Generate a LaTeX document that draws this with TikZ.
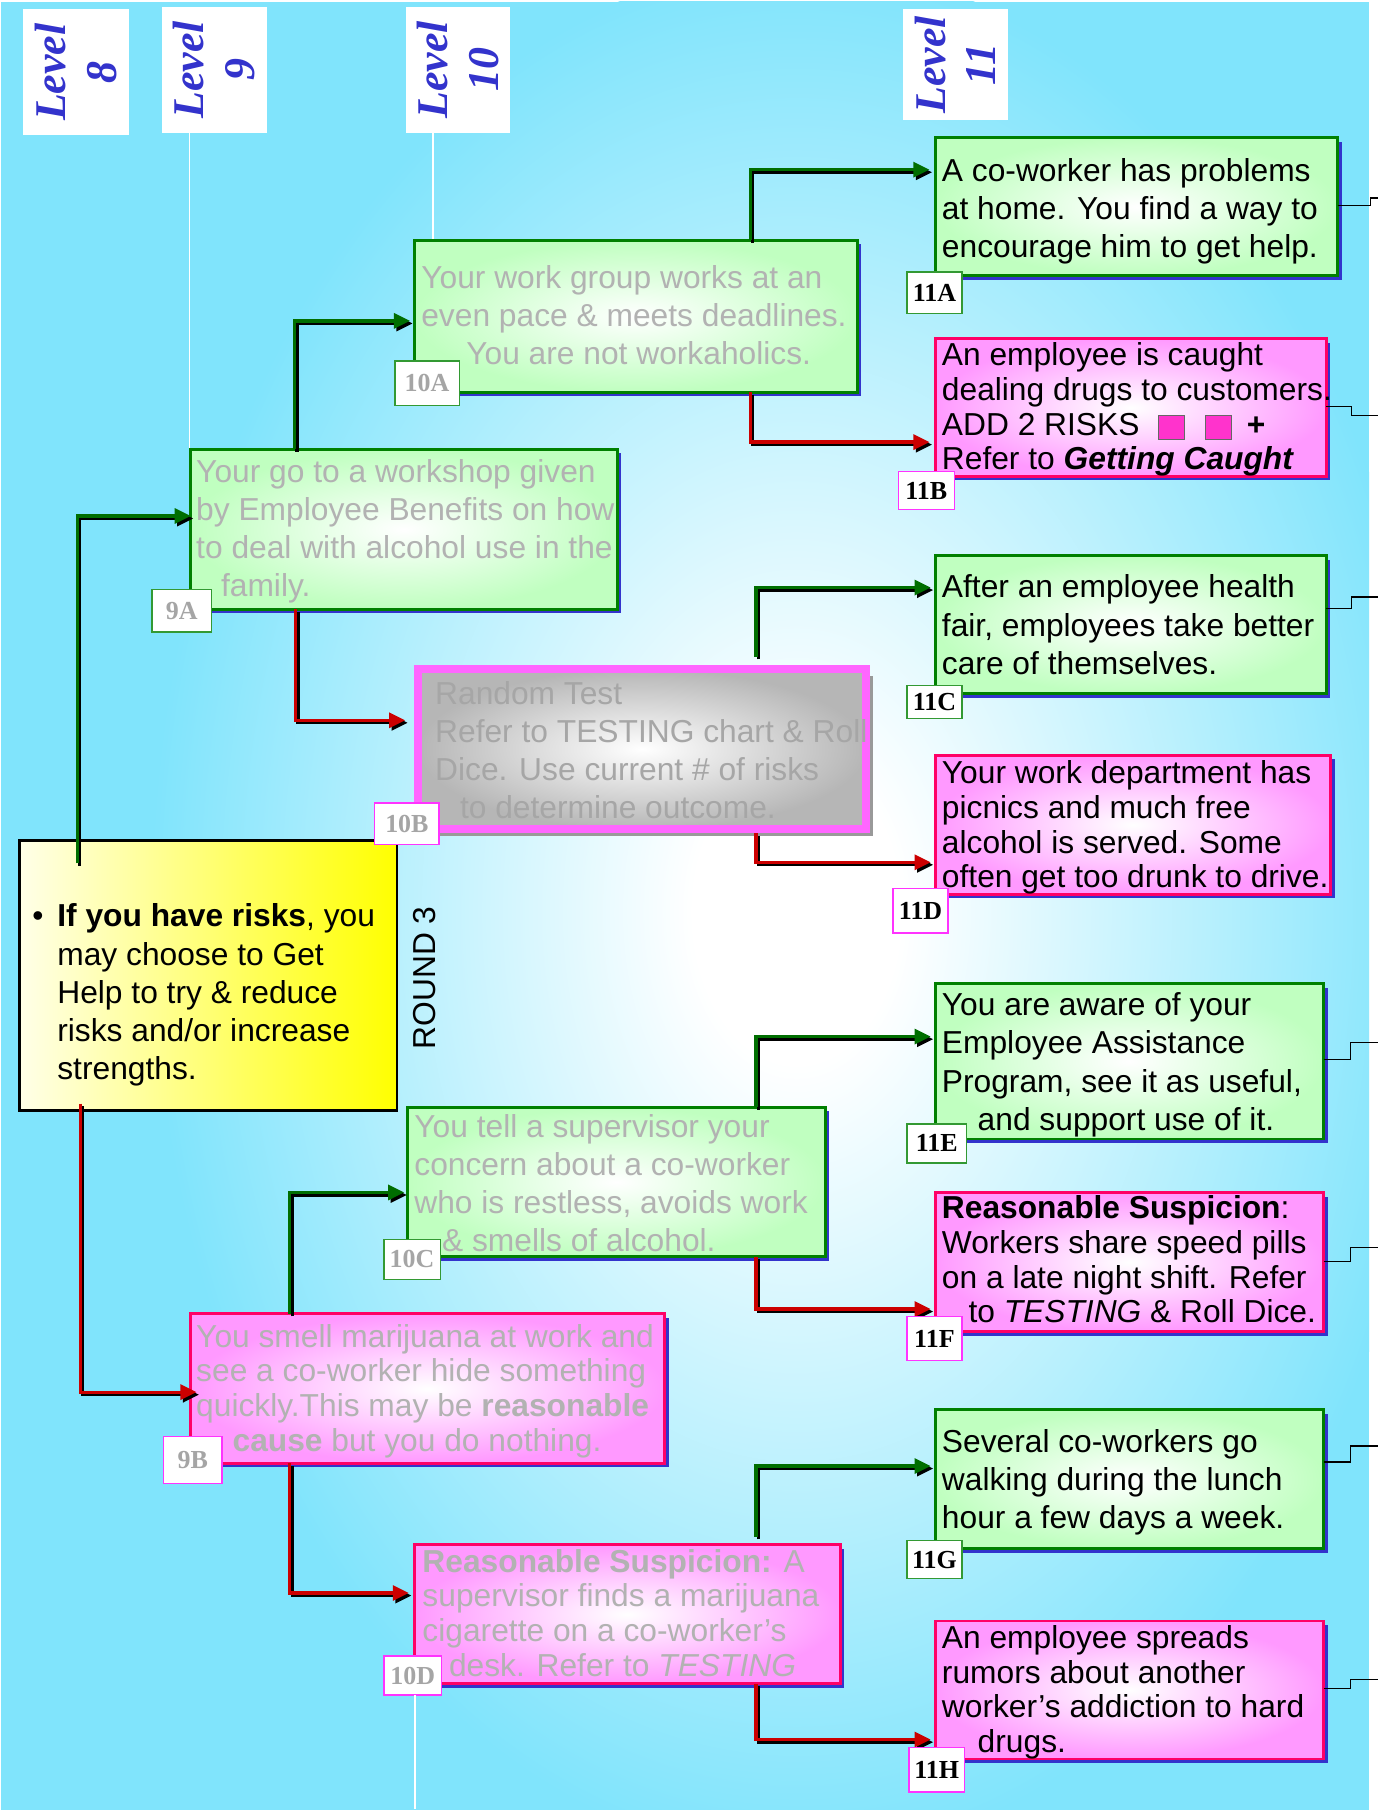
\documentclass[tikz,border=0pt]{standalone}
\usepackage{fontspec}
\setmainfont{Liberation Sans}
\newfontfamily\lserif{Liberation Serif}
\usetikzlibrary{arrows.meta,shadows}
\definecolor{bgcyan}{RGB}{128,228,252}
\definecolor{fillgreen}{RGB}{192,255,192}
\definecolor{boxgreen}{RGB}{0,128,0}
\definecolor{fillpink}{RGB}{255,153,255}
\definecolor{boxpink}{RGB}{255,0,102}
\definecolor{shadowblue}{RGB}{51,51,204}
\definecolor{fillgray}{RGB}{182,182,182}
\definecolor{magborder}{RGB}{255,102,255}
\definecolor{fadegray}{RGB}{178,178,178}
\definecolor{graytext}{RGB}{166,166,166}
\definecolor{labgray}{RGB}{165,165,165}
\definecolor{labgreen}{RGB}{51,153,51}
\definecolor{labmag}{RGB}{255,51,255}
\definecolor{lvblue}{RGB}{51,51,204}
\definecolor{conngreen}{RGB}{0,110,0}
\definecolor{connred}{RGB}{204,0,0}
\definecolor{ylight}{RGB}{255,255,232}
\definecolor{sqpink}{RGB}{255,51,204}
\pgfdeclareradialshading{bgrad}{\pgfpoint{0bp}{0bp}}{color(0bp)=(white); color(4bp)=(white); color(25bp)=(bgcyan); color(50bp)=(bgcyan)}
\newcommand{\fA}{\fontsize{27.5pt}{33pt}\selectfont}
\newcommand{\fB}{\fontsize{27.5pt}{30pt}\selectfont}
\newcommand{\risksq}{\raisebox{-3.6pt}{\setlength{\fboxsep}{0pt}\setlength{\fboxrule}{0.8pt}\fcolorbox{black!60}{sqpink}{\rule{0pt}{20.4pt}\rule{21.4pt}{0pt}}}}
\newcommand{\mkconn}[7]{%
  \draw[connshadow] ([xshift=#3pt+2.2pt,yshift=#4pt-2.2pt]#2) |- ([xshift=#6pt+2.2pt,yshift=#7pt-2.2pt]#5);
  \draw[#1] ([xshift=#3pt,yshift=#4pt]#2) |- ([xshift=#6pt,yshift=#7pt]#5);}
\tikzset{
  gbox/.style={draw=boxgreen, line width=2.5pt, inner color=white, outer color=fillgreen,
    drop shadow={shadow xshift=3.5pt, shadow yshift=-3.5pt, fill=shadowblue, opacity=1},
    inner sep=0pt, outer sep=0pt},
  pbox/.style={draw=boxpink, line width=2.5pt, inner color=white, outer color=fillpink,
    drop shadow={shadow xshift=3.5pt, shadow yshift=-3.5pt, fill=shadowblue, opacity=1},
    inner sep=0pt, outer sep=0pt},
  graybox/.style={draw=magborder, line width=7pt, inner color=white, outer color=fillgray,
    drop shadow={shadow xshift=6pt, shadow yshift=-6pt, fill=black!40, opacity=1},
    inner sep=0pt, outer sep=0pt},
  ybox/.style={draw=black, line width=2pt, left color=ylight, right color=yellow, inner sep=0pt, outer sep=0pt},
  lvbox/.style={fill=white, inner sep=0pt, outer sep=0pt},
  lvtext/.style={rotate=90, align=center, text=lvblue, inner sep=0pt,
    font=\lserif\bfseries\itshape\fontsize{38pt}{44pt}\selectfont},
  labbase/.style={fill=white, line width=1.2pt, inner sep=0pt, outer sep=0pt,
    font=\lserif\bfseries\fontsize{22.5pt}{24pt}\selectfont},
  labg/.style={labbase, draw=labgreen},
  labm/.style={labbase, draw=labmag},
  txtA/.style={anchor=north west, inner sep=0pt, outer sep=0pt, align=left, font=\fA},
  txtB/.style={anchor=north west, inner sep=0pt, outer sep=0pt, align=left, font=\fB},
  faded/.style={text=fadegray},
  wline/.style={draw=white, line width=1.3pt},
  connshadow/.style={draw=black, line width=2.8pt, -{Triangle[length=14pt,width=13pt]}},
  gconn/.style={draw=conngreen, line width=2.8pt, -{Triangle[length=14pt,width=13pt]}},
  rconn/.style={draw=connred, line width=2.8pt, -{Triangle[length=14pt,width=13pt]}},
  stub/.style={draw=black, line width=1.2pt}
}
\begin{document}
\begin{tikzpicture}[x=1pt,y=-1pt]
\useasboundingbox (0,0) rectangle (1194,1568);
% background
\fill[white] (0,0) rectangle (1194,1568);
\fill[bgcyan] (0.8,1.5) rectangle (1186,1568);
\begin{scope}
  \clip (0.8,1.5) rectangle (1186,1568);
  \shade[shading=bgrad] (690,790) ellipse [x radius=560pt, y radius=820pt];
\end{scope}

% level labels
\node[lvbox, minimum width=92pt, minimum height=109pt] (lv8) at (66,62.5) {};
\node[lvtext] (lv8t) at (lv8.center) {Level\\8};
\node[lvbox, minimum width=91pt, minimum height=109pt] (lv9) at (185.5,60.5) {};
\node[lvtext] (lv9t) at (lv9.center) {Level\\9};
\node[lvbox, minimum width=90pt, minimum height=109pt] (lv10) at (397,60.5) {};
\node[lvtext] (lv10t) at (lv10.center) {Level\\10};
\node[lvbox, minimum width=91pt, minimum height=96pt] (lv11) at (827.5,56) {};
\node[lvtext] (lv11t) at (lv11.center) {Level\\11};

% white guide lines
\draw[wline] ([xshift=-21.5pt]lv9.south) -- ++(0,273);
\draw[wline] ([xshift=-22pt]lv10.south) -- ++(0,92);

% boxes
\node[ybox, minimum width=327pt, minimum height=234pt] (nY) at (180.5,845) {};
\node[gbox, minimum width=369.5pt, minimum height=138.5pt] (n9A) at (350,458.5) {};
\node[pbox, minimum width=410.5pt, minimum height=129.5pt] (n9B) at (370.5,1203) {};
\node[gbox, minimum width=383.5pt, minimum height=131.5pt] (n10A) at (551,274) {};
\node[graybox, minimum width=388pt, minimum height=139pt] (n10B) at (556.5,649) {};
\node[gbox, minimum width=361.5pt, minimum height=129.5pt] (n10C) at (534,1024) {};
\node[pbox, minimum width=368.5pt, minimum height=120.5pt] (n10D) at (543.5,1398.5) {};
\node[gbox, minimum width=348.5pt, minimum height=119.5pt] (n11A) at (984.5,179) {};
\node[pbox, minimum width=338.5pt, minimum height=119.5pt] (n11B) at (979.5,353) {};
\node[gbox, minimum width=338.5pt, minimum height=119.5pt] (n11C) at (979.5,541) {};
\node[pbox, minimum width=342.5pt, minimum height=120.5pt] (n11D) at (981.5,714.5) {};
\node[gbox, minimum width=336.5pt, minimum height=134.5pt] (n11E) at (978.5,919.5) {};
\node[pbox, minimum width=336.5pt, minimum height=120.5pt] (n11F) at (978.5,1093.5) {};
\node[gbox, minimum width=336.5pt, minimum height=120.5pt] (n11G) at (978.5,1281.5) {};
\node[pbox, minimum width=336.5pt, minimum height=119.5pt] (n11H) at (978.5,1464) {};

% connectors
\mkconn{gconn}{nY.north}{-113.5}{-20}{n9A.west}{0}{11.5}
\mkconn{rconn}{nY.south}{-111}{6}{n9B.west}{5}{-3}
\mkconn{gconn}{n9A.north}{-95}{0}{n10A.west}{-4}{-4}
\mkconn{rconn}{n9A.south}{-94}{0}{n10B.west}{-11.5}{25}
\mkconn{gconn}{n10A.north}{99}{0}{n11A.west}{-5}{32}
\mkconn{rconn}{n10A.south}{99}{0}{n11B.west}{-5}{-30}
\mkconn{gconn}{n10B.north}{98.5}{10.5}{n11C.west}{-4}{32}
\mkconn{rconn}{n10B.south}{98.5}{-3.5}{n11D.west}{-4}{-32.5}
\mkconn{gconn}{n9B.north}{-119.5}{0}{n10C.west}{-3}{-9}
\mkconn{rconn}{n9B.south}{-119.5}{0}{n10D.west}{-5}{18.5}
\mkconn{gconn}{n10C.north}{121}{0}{n11E.west}{-4}{21.5}
\mkconn{rconn}{n10C.south}{121}{0}{n11F.west}{-4}{-40.5}
\mkconn{gconn}{n10D.north}{111.5}{7}{n11G.west}{-4}{11.5}
\mkconn{rconn}{n10D.south}{111.5}{0}{n11H.west}{-4}{-43}

% right stubs
\draw[stub] ([yshift=1pt]n11A.east) -| ++(28.25,-6.4) -- ++(7,0);
\draw[stub] ([yshift=1pt]n11B.east) -| ++(22.25,7.7) -- ++(23,0);
\draw[stub] ([yshift=14pt]n11C.east) -| ++(22.25,-9.7) -- ++(23,0);
\draw[stub] ([yshift=1.5pt]n11E.east) -| ++(23.25,-15) -- ++(24,0);
\draw[stub] ([yshift=0.9pt]n11F.east) -| ++(23.25,-12) -- ++(24,0);
\draw[stub] ([yshift=15pt]n11G.east) -| ++(23.25,-14) -- ++(24,0);
\draw[stub] ([yshift=1.3pt]n11H.east) -| ++(23.25,-8) -- ++(24,0);

% labels
\node[labg, text=labgray, minimum width=51.8pt, minimum height=36.8pt] (l9A) at (157.5,529) {9A};
\node[labm, text=labgray, minimum width=50.8pt, minimum height=40.8pt] (l9B) at (167,1265) {9B};
\node[labg, text=labgray, minimum width=55.8pt, minimum height=38.8pt] (l10A) at (370,332) {10A};
\node[labm, text=labgray, minimum width=49.8pt, minimum height=33.8pt] (l10D) at (357.5,1451.5) {10D};
\draw[wline] ([xshift=2pt]l10D.south) -- ++(0,99);
\node[labg, text=labgray, minimum width=48.8pt, minimum height=34.8pt] (l10C) at (357,1091) {10C};
\node[labg, minimum width=47.8pt, minimum height=35.8pt] (l11A) at (809.5,253.5) {11A};
\node[labm, minimum width=48.8pt, minimum height=32.8pt] (l11B) at (802.5,425) {11B};
\node[labg, minimum width=47.8pt, minimum height=28.8pt] (l11C) at (809.5,608) {11C};
\node[labm, minimum width=47.8pt, minimum height=38.8pt] (l11D) at (797.5,789) {11D};
\node[labg, minimum width=51.8pt, minimum height=33.8pt] (l11E) at (811.5,990.5) {11E};
\node[labm, minimum width=47.8pt, minimum height=37.8pt] (l11F) at (809.5,1159.5) {11F};
\node[labg, minimum width=47.8pt, minimum height=32.8pt] (l11G) at (809.5,1351) {11G};
\node[labm, minimum width=47.8pt, minimum height=38.8pt] (l11H) at (811.5,1533) {11H};

% texts
\node[txtA] (tY) at (49.7,779.9) {\strut\llap{\textbullet\hspace{12pt}}\textbf{If you have risks}, you\\may choose to Get\\Help to try \& reduce\\risks and/or increase\\strengths.};
\node[font=\fA, rotate=90, inner sep=0pt] (round) at (368,847) {ROUND 3};

\node[txtA, faded] (t9A) at (170,394.9) {\strut Your go to a workshop given\\by Employee Benefits on how\\to deal with alcohol use in the\\\hspace*{21.5pt}family.};
\node[txtB, faded] (t9B) at (170,1146) {\strut You smell marijuana at work and\\see a co-worker hide something\\quickly.This may be \textbf{reasonable}\\\hspace*{31.5pt}\textbf{cause} but you do nothing.};
\node[txtA, faded] (t10A) at (365,226.9) {\strut Your work group works at an\\even pace \& meets deadlines.\\\hspace*{39pt}You are not workaholics.};
\begin{scope}
  \clip (359,577) rectangle (751,721);
  \node[txtA, text=graytext] (t10B) at (377,586.9) {\strut Random Test\\Refer to TESTING chart \& Roll\\Dice. Use current \# of risks\\\hspace*{21.5pt}to determine outcome.};
\end{scope}
\node[labm, text=labgray, minimum width=55.8pt, minimum height=35.8pt] (l10B) at (352.5,713.5) {10B};
\node[txtA, faded] (t10C) at (359,961.9) {\strut You tell a supervisor your\\concern about a co-worker\\who is restless, avoids work\\\hspace*{24pt}\& smells of alcohol.};
\node[txtB, faded] (t10D) at (366,1341) {\strut\textbf{Reasonable Suspicion:} A\\supervisor finds a marijuana\\cigarette on a co-worker’s\\\hspace*{23pt}desk. Refer to \textit{TESTING}};

\node[txtA] (t11A) at (816,133.9) {\strut A co-worker has problems\\at home. You find a way to\\encourage him to get help.};
\node[txtB] (t11B) at (816,296) {\strut An employee is caught\\dealing drugs to customers.\\ADD 2 RISKS\hspace{16pt}\risksq\hspace{18pt}\risksq\hspace{13pt}\textbf{+}\\Refer to \textbf{\textit{Getting Caught}}};
\node[txtA] (t11C) at (816,494.9) {\strut After an employee health\\fair, employees take better\\care of themselves.};
\node[txtB] (t11D) at (816,658) {\strut Your work department has\\picnics and much free\\alcohol is served. Some\\often get too drunk to drive.};
\node[txtA] (t11E) at (816,856.9) {\strut You are aware of your\\Employee Assistance\\Program, see it as useful,\\\hspace*{31pt}and support use of it.};
\node[txtB] (t11F) at (816,1035) {\strut\textbf{Reasonable Suspicion}:\\Workers share speed pills\\on a late night shift. Refer\\\hspace*{23pt}to \textit{TESTING} \& Roll Dice.};
\node[txtA] (t11G) at (816,1234.9) {\strut Several co-workers go\\walking during the lunch\\hour a few days a week.};
\node[txtB] (t11H) at (816,1407) {\strut An employee spreads\\rumors about another\\worker’s addiction to hard\\\hspace*{31pt}drugs.};
\end{tikzpicture}
\end{document}
